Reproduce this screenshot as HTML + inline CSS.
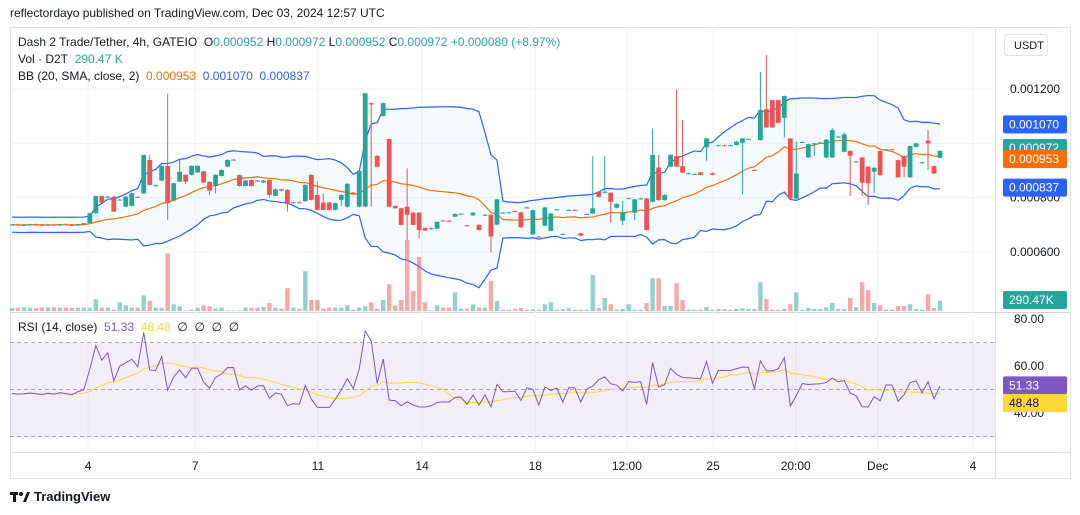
<!DOCTYPE html>
<html><head><meta charset="utf-8"><style>
body{margin:0;background:#fff;width:1080px;height:515px;overflow:hidden;font-family:"Liberation Sans",sans-serif}
svg{display:block}
text{font-family:"Liberation Sans",sans-serif}
</style></head><body>
<svg id="c" width="1080" height="515"></svg>
<script>
const opens=[700,701,699,700,702,700,698,701,699,702,700,698,703,706,743,806,803,804,791,767,770,803,816,939,843,863,917,789,859,884,884,893,897,858,843,880,914,939,883,843,865,863,856,865,807,831,829,782,783,787,884,810,782,782,755,792,767,819,767,767,1148,954,1101,1016,770,761,767,745,745,688,684,686,716,715,730,740,698,735,700,737,737,701,744,745,751,746,763,665,657,697,678,757,666,754,755,669,740,742,822,818,818,763,715,797,745,797,797,785,911,791,914,953,916,889,887,893,985,890,992,993,992,994,1002,1017,902,1012,1126,1159,1159,1094,1018,797,1004,948,999,1003,948,948,1024,969,972,933,948,914,896,972,978,978,938,953,875,987,930,1010,916,947];
const highs=[703,704,702,703,705,703,702,704,703,705,703,702,706,745,808,808,806,806,795,806,818,805,957,957,848,919,1184,855,939,886,919,919,899,860,886,904,941,942,885,865,867,865,865,867,833,833,831,785,785,849,886,860,816,784,782,812,853,821,901,1186,1150,956,1150,1018,772,763,908,747,747,690,690,713,718,717,742,743,700,747,702,739,739,796,747,748,753,748,766,756,659,766,744,759,668,757,757,671,742,953,824,953,820,779,788,800,796,799,799,1055,957,812,959,1198,1086,892,889,895,1020,892,995,995,995,1008,1020,1019,904,1262,1325,1161,1161,1176,1020,1006,1007,999,1002,1005,1016,1056,1027,1040,974,935,950,916,912,974,980,980,940,955,992,1002,932,1049,918,974];
const lows=[697,698,696,697,699,696,695,698,696,699,697,695,700,704,740,780,800,747,789,765,768,799,814,845,841,861,718,787,857,850,882,891,854,810,815,878,912,937,841,841,841,860,854,800,805,824,749,780,779,785,790,753,753,753,753,770,765,816,765,765,767,912,1099,765,759,698,645,698,651,677,682,684,712,711,728,738,694,733,679,735,598,699,742,743,747,689,761,663,654,695,676,755,664,752,752,658,738,740,801,816,708,761,699,795,718,795,679,783,789,789,912,912,890,887,885,882,936,882,990,990,990,992,813,1015,899,1010,1057,1057,1074,1022,795,795,1002,946,953,1001,946,946,1022,967,806,931,806,773,818,881,976,975,873,875,873,985,928,902,887,945];
const closes=[701,699,700,702,700,698,701,699,702,700,698,703,706,743,806,782,804,749,793,804,816,801,957,847,846,917,780,853,895,859,917,917,856,826,884,902,939,940,843,863,843,862,863,810,831,826,777,783,781,847,792,755,755,755,780,810,851,818,899,1184,1143,914,1148,767,761,700,737,700,681,679,688,711,714,713,740,741,696,745,681,737,657,794,745,746,749,691,764,754,656,764,742,757,666,755,754,660,740,761,803,822,785,777,746,798,794,797,681,957,791,810,957,914,892,890,887,884,1018,884,993,992,993,1006,1018,1017,901,1122,1059,1059,1076,1174,797,889,1005,997,1000,1003,1014,1049,1025,1033,954,933,855,853,910,883,978,977,875,914,990,1000,930,1000,889,972];
const volumes=[97,97,107,97,87,97,97,107,97,97,87,97,97,97,340,97,97,39,252,165,97,97,456,291,97,97,1668,194,136,20,39,97,165,136,68,97,20,20,20,97,97,97,116,233,97,68,660,97,68,1155,320,320,68,97,97,97,165,39,97,136,252,68,320,776,165,320,2056,582,1570,252,20,165,97,97,543,68,68,194,97,97,873,291,39,39,68,87,39,48,39,194,252,39,58,78,39,39,39,1048,87,378,194,39,58,194,39,39,233,951,951,146,146,806,320,39,39,39,107,39,58,58,39,58,78,58,58,835,349,39,39,58,194,543,39,87,58,58,107,233,58,58,378,107,835,602,233,165,39,39,146,146,194,58,39,485,87,290];
const priceTicks=[600,800,1000,1200];
const rsiTicks=[80,60,40];
const lastValues={bbUpper:1070,close:972,bbBasis:953,bbLower:837,rsi:51.33,rsiMa:48.48};
const timeTickIdx=[12.7,30.6,51.1,68.5,87.4,102.7,117.1,130.9,144.6,160.5];
const timeTickLabels=["4","7","11","14","18","12:00","25","20:00","Dec","4"];

const NS="http://www.w3.org/2000/svg";
const svg=document.getElementById('c');
function el(tag,attrs,parent){const e=document.createElementNS(NS,tag);for(const k in attrs)e.setAttribute(k,attrs[k]);(parent||svg).appendChild(e);return e;}
const n=closes.length, X0=12, STEP=(940-12)/(n-1);
const xOf=i=>X0+i*STEP;
const yP=p=>89+(1200-p)*0.2717;
const yV=v=>311-v/29;
const yR=r=>389.5-(r-50)*2.35;
const GREEN='#26a69a',RED='#ef5350';

let r=el('rect',{x:10.5,y:27.5,width:1060,height:451,fill:'none',stroke:'#e0e3eb'});

el('line',{x1:995.5,y1:27,x2:995.5,y2:478,stroke:'#e0e3eb'});
el('line',{x1:10,y1:312.5,x2:1070,y2:312.5,stroke:'#d1d4dc'});
el('line',{x1:10,y1:452.5,x2:1070,y2:452.5,stroke:'#e0e3eb'});

priceTicks.forEach(p=>{const g=el('line',{x1:10,x2:995,y1:yP(p),y2:yP(p),stroke:'#f0f3fa'});});
timeTickIdx.forEach((t,k)=>{const x=xOf(t);
 const g=el('line',{x1:x,x2:x,y1:27,y2:452,stroke:'#f0f3fa'});
 const tx=el('text',{x:x,y:470,'font-size':12,fill:'#131722','text-anchor':'middle'});tx.textContent=timeTickLabels[k];
 });

const basis=[],up=[],lo=[];
for(let i=0;i<n;i++){const s=Math.max(0,i-19);const w=closes.slice(s,i+1);const m=w.reduce((a,b)=>a+b,0)/w.length;
 const sd=Math.max(14,Math.sqrt(w.reduce((a,b)=>a+(b-m)*(b-m),0)/w.length));basis.push(m);up.push(m+2*sd);lo.push(m-2*sd);}
const clip=el('clipPath',{id:'pc'});el('rect',{x:10,y:27,width:985,height:285},clip);
const clip2=el('clipPath',{id:'rc'});el('rect',{x:10,y:313,width:985,height:139},clip2);
const gP=el('g',{'clip-path':'url(#pc)'});
let fillD='M'+up.map((v,i)=>xOf(i)+','+yP(v)).join('L')+'L'+lo.map((v,i)=>xOf(i)+','+yP(v)).reverse().join('L')+'Z';
let f=el('path',{d:fillD,fill:'rgba(33,150,243,0.05)'},gP);
[[up,'#2962ff','bb-upper'],[lo,'#2962ff','bb-lower'],[basis,'#ff6d00','bb-basis']].forEach(([a,c,nm])=>{
 const p=el('polyline',{points:a.map((v,i)=>xOf(i)+','+yP(v)).join(' '),fill:'none',stroke:c,'stroke-width':1.2},gP);
 });

volumes.forEach((v,i)=>{const c=closes[i]>=opens[i];
 const b=el('rect',{x:xOf(i)-2.2,y:yV(v),width:4.4,height:311-yV(v),fill:c?'rgba(38,166,154,0.5)':'rgba(239,83,80,0.5)'},gP);
 });

for(let i=0;i<n;i++){const c=closes[i]>=opens[i]?GREEN:RED;const x=xOf(i);
 const g=el('g',{},gP);
 el('line',{x1:x,x2:x,y1:yP(highs[i]),y2:yP(lows[i]),stroke:c,'stroke-width':1},g);
 const t=Math.min(yP(opens[i]),yP(closes[i]));const h=Math.max(1,Math.abs(yP(opens[i])-yP(closes[i])));
 el('rect',{x:x-2.4,y:t,width:4.8,height:h,fill:c},g);}

// RSI (Wilder, seeded)
const rsi=[];let ag=14,al=15;
for(let i=0;i<n;i++){if(i>0){const d=closes[i]-closes[i-1];ag=(ag*13+Math.max(d,0))/14;al=(al*13+Math.max(-d,0))/14;}
 rsi.push(100-100/(1+ag/al));}
const rma=rsi.map((v,i)=>{const w=rsi.slice(Math.max(0,i-13),i+1);return w.reduce((a,b)=>a+b,0)/w.length;});
const gR=el('g',{'clip-path':'url(#rc)'});
let bg=el('rect',{x:10,y:yR(70),width:985,height:yR(30)-yR(70),fill:'rgba(126,87,194,0.1)'},gR);
[70,50,30].forEach(v=>{const l=el('line',{x1:10,x2:995,y1:yR(v),y2:yR(v),stroke:'#787b86','stroke-dasharray':'4 3','stroke-width':1,opacity:0.6},gR);});
let rl=el('polyline',{points:rma.map((v,i)=>xOf(i)+','+yR(v)).join(' '),fill:'none',stroke:'#fdd835','stroke-width':1},gR);
let rp=el('polyline',{points:rsi.map((v,i)=>xOf(i)+','+yR(v)).join(' '),fill:'none',stroke:'#7e57c2','stroke-width':1},gR);

priceTicks.forEach(p=>{const t=el('text',{x:1010,y:yP(p)+4,'font-size':12,fill:'#131722'});t.textContent=(p/1e6).toFixed(6);});
rsiTicks.forEach(v=>{const t=el('text',{x:1014,y:yR(v)+4,'font-size':12,fill:'#131722'});t.textContent=v.toFixed(2);});
function badge(y,txt,bgc,fg,name){const g=el('g',{});
 el('rect',{x:1003,y:y-9,width:64,height:18,rx:2,fill:bgc},g);const t=el('text',{x:1009,y:y+4,'font-size':12,fill:fg},g);t.textContent=txt;}
badge(yP(lastValues.bbUpper),'0.001070','#2962ff','#fff','bb-upper-badge');
badge(yP(lastValues.close)-3,'0.000972',GREEN,'#fff','last-price-badge');
badge(yP(lastValues.bbBasis)+3,'0.000953','#ff6d00','#fff','bb-basis-badge');
badge(yP(lastValues.bbLower),'0.000837','#2962ff','#fff','bb-lower-badge');
badge(300,'290.47K','#26a69a','#fff','volume-badge');
badge(yR(lastValues.rsi)-1,'51.33','#7e57c2','#fff','rsi-badge');
badge(yR(lastValues.rsiMa)+10,'48.48','#fdd835','#131722','rsi-ma-badge');
let ub=el('rect',{x:1004.5,y:34.5,width:43,height:21,rx:3,fill:'#fff',stroke:'#e0e3eb'});
let ut=el('text',{x:1014,y:49,'font-size':11,fill:'#131722'});ut.textContent='USDT';
</script>
<div style="position:absolute;left:10px;top:6px;font-size:12px;color:#131722">reflectordayo published on TradingView.com, Dec 03, 2024 12:57 UTC</div>
<div style="position:absolute;left:18px;top:35px;font-size:12px;color:#131722;white-space:nowrap">Dash 2 Trade/Tether, 4h, GATEIO&nbsp; O<span style="color:#26a69a">0.000952</span> H<span style="color:#26a69a">0.000972</span> L<span style="color:#26a69a">0.000952</span> C<span style="color:#26a69a">0.000972</span> <span style="color:#26a69a">+0.000080 (+8.97%)</span></div>
<div style="position:absolute;left:18px;top:52px;font-size:12px;color:#131722">Vol · D2T&nbsp; <span style="color:#26a69a">290.47 K</span></div>
<div style="position:absolute;left:18px;top:69px;font-size:12px;color:#131722">BB (20, SMA, close, 2)&nbsp; <span style="color:#ff6d00">0.000953</span>&nbsp; <span style="color:#2962ff">0.001070</span>&nbsp; <span style="color:#2962ff">0.000837</span></div>
<div style="position:absolute;left:18px;top:320px;font-size:12px;color:#131722">RSI (14, close)&nbsp; <span style="color:#7e57c2">51.33</span>&nbsp; <span style="color:#fdd835">48.48</span>&nbsp; ∅&nbsp; ∅&nbsp; ∅&nbsp; ∅</div>
<div style="position:absolute;left:10px;top:489px;font-size:13px;font-weight:bold;color:#131722;display:flex;align-items:center"><svg width="20" height="12" style="margin-right:4px"><rect x="0" y="1" width="8" height="3" fill="#131722"/><rect x="3" y="1" width="3" height="10" fill="#131722"/><circle cx="11" cy="3" r="2" fill="#131722"/><polygon points="13,11 17,1 20,1 16,11" fill="#131722"/></svg>TradingView</div>
</body></html>
